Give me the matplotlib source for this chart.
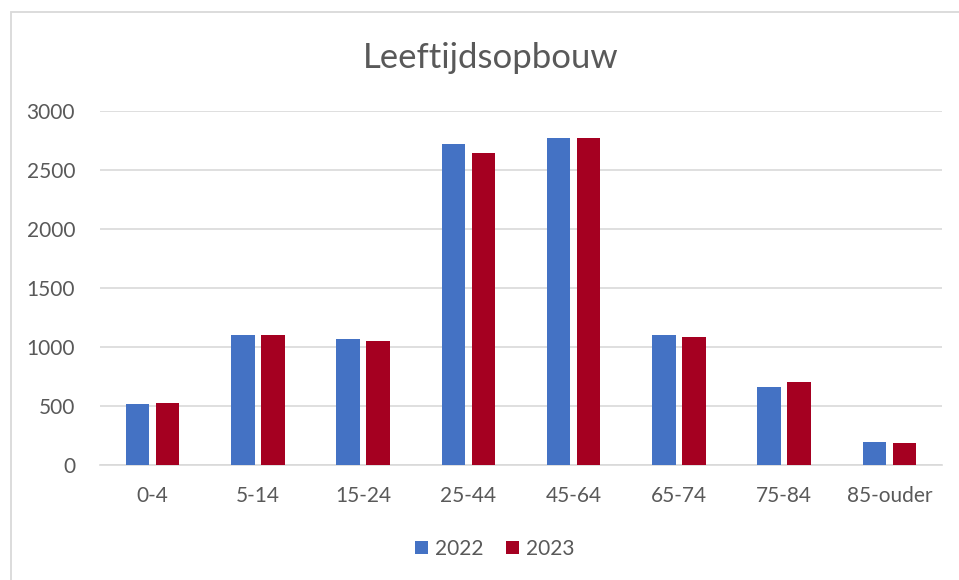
import matplotlib
matplotlib.use("Agg")
import matplotlib.pyplot as plt
import numpy as np
from matplotlib.patches import Rectangle

plt.rcParams['font.family'] = ['Lato', 'DejaVu Sans']

categories = ['0-4', '5-14', '15-24', '25-44', '45-64', '65-74', '75-84', '85-ouder']
years = ['2022', '2023']
vals_2022 = [516, 1098, 1072, 2720, 2768, 1100, 660, 198]
vals_2023 = [525, 1098, 1055, 2647, 2774, 1086, 703, 186]
yticks = [0, 500, 1000, 1500, 2000, 2500, 3000]

col_2022 = '#4472C4'
col_2023 = '#A50021'
txt = '#595959'

fig = plt.figure(figsize=(9.59, 5.8), dpi=100)
# chart frame: only left and top edges show, the rest is cut off
fig.patches.append(Rectangle((10.5/959, -0.05), 1.0, 1 - 12/580 + 0.05,
                             transform=fig.transFigure, fill=False,
                             ec='#D9D9D9', lw=1.3))

ax = fig.add_axes([100/959, 1 - 465/580, 842/959, 354/580])
x = np.arange(len(categories))
w = 0.225
off = 0.1425
ax.bar(x - off, vals_2022, w, color=col_2022, label=years[0], zorder=3)
ax.bar(x + off, vals_2023, w, color=col_2023, label=years[1], zorder=3)

ax.set_xlim(-0.5, len(categories) - 0.5)
ax.set_ylim(0, 3000)
ax.set_yticks(yticks)
ax.set_xticks(x)
ax.set_xticklabels(categories)
ax.tick_params(axis='both', length=0, labelsize=15, colors=txt)
ax.tick_params(axis='y', pad=18)
ax.tick_params(axis='x', pad=15)
ax.grid(axis='y', color='#D9D9D9', lw=1.2, zorder=0)
for s in ['top', 'right', 'left']:
    ax.spines[s].set_visible(False)
ax.spines['bottom'].set_color('#D9D9D9')
ax.spines['bottom'].set_linewidth(1.2)

fig.text(491/959, 1 - 58/580, 'Leeftijdsopbouw', ha='center', va='center',
         fontsize=25, color=txt)

leg = fig.legend(loc='center', bbox_to_anchor=(495/959, 1 - 549/580),
                 ncol=2, frameon=False, fontsize=15, handlelength=0.6,
                 handleheight=0.6, handletextpad=0.35, columnspacing=1.1)
for t in leg.get_texts():
    t.set_color(txt)

plt.savefig('out.png', dpi=100)
